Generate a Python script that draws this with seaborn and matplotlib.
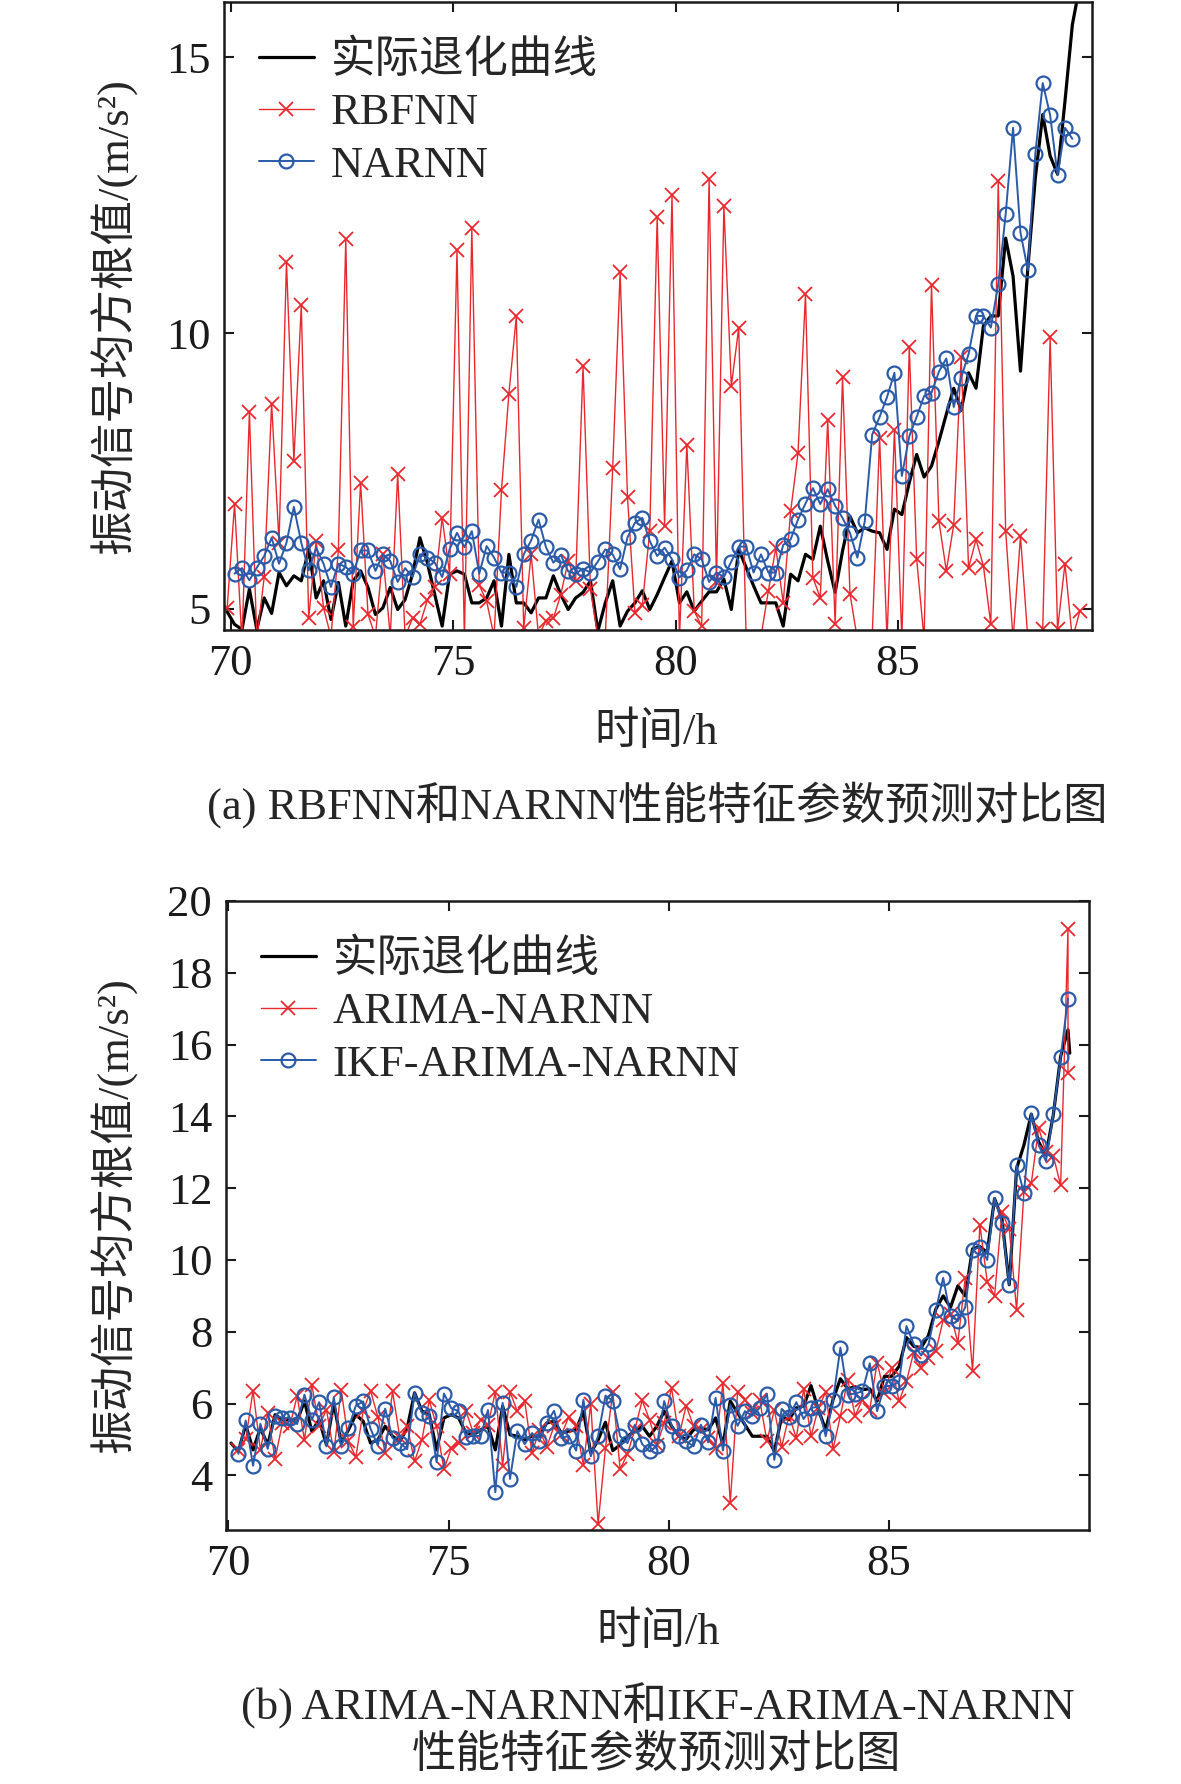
import numpy as np
import matplotlib
matplotlib.use("Agg")
import matplotlib.pyplot as plt
import seaborn as sns

# 10-minute sampling grid (hours)
step = 1 / 6
t_a = 69.92 + np.arange(116) * step
t_b = 70.063 + np.arange(115) * step

# (a) actual degradation curve, RBFNN and NARNN predictions
actual_a = [4.95, 4.72, 4.63, 5.36, 4.63, 5.20, 4.92, 5.66, 5.42, 5.60,
            5.51, 6.08, 5.20, 5.51, 4.81, 5.48, 4.69, 5.51, 5.69, 5.39,
            4.90, 5.02, 5.39, 4.99, 5.17, 5.63, 6.29, 5.84, 5.26, 4.69,
            5.63, 5.69, 5.63, 5.11, 5.11, 5.20, 5.51, 4.69, 5.99, 5.11,
            5.11, 4.93, 5.20, 5.20, 5.60, 5.26, 4.99, 5.20, 5.30, 5.51,
            4.60, 5.11, 5.51, 4.69, 4.96, 5.11, 5.33, 4.99, 5.26, 5.57,
            5.87, 5.11, 5.31, 4.96, 5.14, 5.31, 5.31, 5.54, 4.99, 6.08,
            5.75, 5.42, 5.11, 5.11, 5.11, 4.69, 5.63, 5.51, 5.99, 5.90,
            6.50, 5.87, 5.30, 6.05, 6.68, 6.38, 6.47, 6.41, 6.38, 6.08,
            6.81, 6.71, 7.29, 7.80, 7.39, 7.59, 8.04, 8.53, 9.00, 8.60,
            9.28, 9.00, 10.13, 10.31, 10.31, 11.72, 11.03, 9.31, 11.19, 12.81,
            13.96, 13.21, 12.88, 14.20, 15.59, 16.30]
rbfnn = [5.02, 6.90, 4.40, 8.57, 4.45, 5.58, 8.72, 6.20, 11.28, 7.69,
         10.50, 4.83, 6.23, 5.02, 4.50, 6.06, 11.70, 4.67, 7.29, 4.90,
         4.50, 6.00, 4.50, 7.44, 4.50, 4.83, 4.72, 5.16, 5.40, 6.65,
         5.64, 11.50, 4.45, 11.90, 5.43, 5.14, 4.50, 7.15, 8.90, 10.30,
         4.65, 5.99, 4.50, 4.79, 4.83, 5.26, 5.87, 5.51, 9.40, 5.36,
         4.50, 4.50, 7.55, 11.10, 7.02, 4.92, 5.08, 6.41, 12.10, 6.50,
         12.50, 4.45, 7.98, 4.96, 4.69, 12.80, 5.48, 12.30, 9.04, 10.10,
         4.45, 4.50, 4.50, 5.33, 6.11, 5.11, 6.77, 7.83, 10.70, 5.57,
         5.20, 8.42, 4.73, 9.20, 5.28, 4.45, 4.50, 4.50, 8.10, 4.45,
         8.25, 4.45, 9.75, 5.90, 4.45, 10.87, 6.59, 5.69, 6.53, 9.57,
         5.74, 6.26, 5.78, 4.72, 12.75, 6.42, 4.45, 6.32, 4.45, 4.45,
         4.63, 9.93, 4.63, 5.82, 4.45, 4.96]
narnn = [5.64, 5.74, 5.52, 5.75, 5.96, 6.29, 5.82, 6.20, 6.85, 6.20,
         5.70, 6.11, 5.82, 5.40, 5.82, 5.76, 5.64, 6.06, 6.06, 5.69,
         5.99, 5.87, 5.49, 5.74, 5.58, 5.99, 5.93, 5.84, 5.58, 6.08,
         6.38, 6.12, 6.41, 5.64, 6.14, 5.93, 5.66, 5.66, 5.40, 5.99,
         6.24, 6.62, 6.12, 5.84, 5.98, 5.68, 5.64, 5.73, 5.66, 5.86,
         6.08, 5.99, 5.72, 6.30, 6.56, 6.65, 6.23, 5.96, 6.11,
         5.90, 5.57, 5.70, 5.99, 5.90, 5.49, 5.66, 5.58, 5.86, 6.13,
         6.13, 5.66, 5.99, 5.66, 5.66, 6.16, 6.26, 6.62, 6.91, 7.19,
         6.90, 7.17, 6.87, 6.65, 6.38, 5.93, 6.59,
         8.16, 8.48, 8.84, 9.28, 7.41, 8.13, 8.48, 8.86, 8.92, 9.30,
         9.54, 8.66, 9.19, 9.62, 10.31, 10.31, 10.10, 10.88, 12.15, 13.72,
         11.82, 11.14, 13.25, 14.53, 13.95, 12.86, 13.72, 13.52]

# (b) actual degradation curve, ARIMA-NARNN and IKF-ARIMA-NARNN predictions
actual_b = [4.90,
            4.67, 5.41, 4.71, 5.32, 4.85, 5.69, 5.55, 5.55, 5.51, 6.07,
            5.23, 5.55, 4.85, 6.02, 4.90, 5.27, 5.69, 5.51, 4.90, 4.99,
            5.37, 5.09, 4.95, 5.32, 6.30, 5.79, 5.69, 4.71, 5.60, 5.69,
            5.60, 5.18, 5.13, 5.27, 5.37, 4.71, 5.93, 5.13, 5.09, 4.99,
            5.09, 5.09, 5.46, 5.51, 5.18, 5.23, 5.27, 5.79, 4.62, 4.99,
            5.48, 4.69, 4.85, 5.09, 5.23, 5.37, 5.09, 5.37, 5.79,
            5.37, 5.09, 5.01, 5.27, 5.32, 5.27, 5.60, 4.85, 6.07, 5.74,
            5.41, 5.09, 5.09, 5.09, 4.67, 5.63, 5.55, 5.88, 5.93, 6.50,
            5.83, 5.27, 6.11, 6.69, 6.41, 6.47, 6.39, 6.41, 6.07, 6.76,
            6.76, 7.04, 7.84, 7.59, 7.56, 7.90,
            8.63, 9.00, 8.68, 9.28, 9.00, 10.31, 10.37, 10.21, 11.71, 11.15,
            9.31, 12.55, 13.20, 14.06, 13.29, 12.92, 14.04, 15.67, 16.41]
actual_b_end = 15.76
arima = [4.70, 5.00, 6.36, 4.71, 5.74, 4.45, 5.46, 5.37, 6.21, 4.99,
         6.53, 5.37, 5.83, 4.64, 6.39, 4.95, 4.51, 5.79, 6.36, 5.63,
         4.62, 6.34, 5.04, 5.37, 4.39, 4.99, 6.09, 5.37, 4.17, 4.76,
         4.90, 5.80, 5.18, 5.55, 5.41, 6.32, 4.27, 6.32, 5.79, 6.07,
         4.62, 5.27, 4.79, 5.37, 5.13, 5.63, 5.37, 4.29, 6.00, 2.64,
         4.76, 6.32, 4.17, 4.60, 5.27, 6.09, 5.55, 4.85, 5.46,
         6.44, 5.09, 5.94, 5.37, 5.27, 5.04, 4.76, 6.58, 3.24, 6.32,
         6.11, 5.74, 6.11, 4.95, 5.83, 4.79, 5.66, 5.04, 6.41, 5.09,
         5.88, 6.32, 4.73, 5.66, 6.67, 5.66, 6.11, 5.83, 7.14, 6.30,
         7.00, 6.07, 6.62, 7.44, 7.00, 7.28,
         7.46, 8.33, 8.50, 7.70, 9.49, 6.90, 10.98, 9.39, 9.00, 11.33,
         10.87, 8.61, 11.90, 12.13, 13.68, 13.00, 12.90, 12.08, 19.21,
         15.20]
ikf = [4.60, 5.53, 4.27, 5.44, 4.74, 5.66, 5.60, 5.60, 5.43, 6.25,
       5.55, 6.04, 4.81, 6.18, 4.81, 5.32, 5.94, 6.06, 5.30, 4.83,
       5.86, 5.04, 4.90, 4.73, 6.30, 5.74, 5.66, 4.37, 6.28, 5.87,
       5.79, 5.07, 5.10, 5.10, 5.82, 3.53, 6.02, 3.90, 5.23, 4.87,
       5.18, 4.95, 5.46, 5.80, 5.04, 5.10, 4.69, 6.11, 4.53, 5.10,
       6.22, 6.08, 5.09, 4.90, 5.41, 4.87, 4.67, 4.81, 6.07,
       5.38, 5.10, 4.95, 4.81, 5.41, 4.92, 6.16, 4.69, 5.97, 5.38,
       5.79, 5.66, 5.88, 6.27, 4.43, 5.85, 5.63, 6.04, 5.57, 5.88,
       5.91, 5.09, 6.09, 7.56, 6.25, 6.28, 6.34, 7.12, 5.79, 6.48,
       6.50, 6.60, 8.16, 7.65, 7.34, 7.65,
       8.61, 9.50, 8.44, 8.30, 8.68, 10.28, 10.37, 10.00, 11.73, 11.04,
       9.31, 12.64, 11.87, 14.08, 13.20, 12.75, 14.06, 15.64, 17.28]

x_ticks = [70, 75, 80, 85]
ylabel = "振动信号均方根值/(m/s²)"
xlabel = "时间/h"

sns.set_theme(style="ticks")
plt.rcParams["font.family"] = ["Liberation Serif", "Noto Sans CJK SC"]
plt.rcParams["axes.linewidth"] = 1.8
plt.rcParams["axes.edgecolor"] = "#1a1a1a"

RED = "#e8282e"
BLUE = "#2a5aa8"
FS = 32

fig = plt.figure(figsize=(11.81, 17.84), dpi=100)
ax1 = fig.add_axes([0.1897, 0.6469, 0.7349, 0.3520])
ax2 = fig.add_axes([0.1914, 0.1424, 0.7307, 0.3526])

# --- (a)
sns.lineplot(x=t_a, y=actual_a, ax=ax1, color="black", linewidth=2.3,
             label="实际退化曲线", estimator=None, sort=False)
sns.lineplot(x=t_a, y=rbfnn, ax=ax1, color=RED, linewidth=1.0,
             marker="x", markersize=9.5, markeredgewidth=1.3, markeredgecolor=RED,
             label="RBFNN", estimator=None, sort=False)
sns.lineplot(x=t_a[1:115], y=narnn, ax=ax1, color=BLUE, linewidth=1.4,
             marker="o", markersize=10, markeredgewidth=1.6, markeredgecolor=BLUE,
             markerfacecolor="none", label="NARNN", estimator=None, sort=False)
ax1.set_xlim(69.85, 89.36)
ax1.set_ylim(4.62, 16.0)
ax1.set_yticks([5, 10, 15])

# --- (b)
t_b_red = np.append(t_b[1:], t_b[-1])
t_b_act = np.append(t_b, t_b[-1] + 0.04)
sns.lineplot(x=t_b_act, y=actual_b + [actual_b_end], ax=ax2, color="black",
             linewidth=2.3, label="实际退化曲线", estimator=None, sort=False)
sns.lineplot(x=t_b_red, y=arima, ax=ax2, color=RED, linewidth=1.0,
             marker="x", markersize=9.5, markeredgewidth=1.3, markeredgecolor=RED,
             label="ARIMA-NARNN", estimator=None, sort=False)
sns.lineplot(x=t_b[1:], y=ikf, ax=ax2, color=BLUE, linewidth=1.4,
             marker="o", markersize=10, markeredgewidth=1.6, markeredgecolor=BLUE,
             markerfacecolor="none", label="IKF-ARIMA-NARNN", estimator=None, sort=False)
ax2.set_xlim(69.95, 89.54)
ax2.set_ylim(2.48, 20.0)
ax2.set_yticks(list(range(4, 21, 2)))

for ax in (ax1, ax2):
    ax.set_xticks(x_ticks)
    ax.set_xlabel("")
    ax.set_ylabel("")
    ax.tick_params(direction="in", top=True, right=True, length=7, width=1.5,
                   labelsize=FS, pad=10, colors="#1a1a1a")
    for s in ax.spines.values():
        s.set_visible(True)
    ax.legend(loc="upper left", bbox_to_anchor=(0.0225, 0.9645), frameon=False,
              fontsize=FS, handlelength=1.23, handletextpad=0.38,
              labelspacing=0.27, borderaxespad=0, borderpad=0.35)

fig.text(0.0965, 0.6469 + 0.3520 / 2, ylabel, rotation=90, ha="center",
         va="center", fontsize=FS)
fig.text(0.0965, 0.1424 + 0.3526 / 2, ylabel, rotation=90, ha="center",
         va="center", fontsize=FS)
fig.text(0.5555, 0.5897, xlabel, ha="center", va="center", fontsize=FS)
fig.text(0.557, 0.0852, xlabel, ha="center", va="center", fontsize=FS)
fig.text(0.5567, 0.5490, "(a) RBFNN和NARNN性能特征参数预测对比图",
         ha="center", va="center", fontsize=FS)
fig.text(0.557, 0.0437, "(b) ARIMA-NARNN和IKF-ARIMA-NARNN",
         ha="center", va="center", fontsize=FS)
fig.text(0.556, 0.0163, "性能特征参数预测对比图",
         ha="center", va="center", fontsize=FS)

fig.savefig("out.png", dpi=100, facecolor="white")
